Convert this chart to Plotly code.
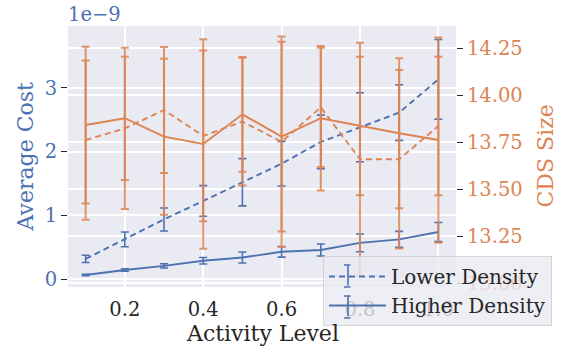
import plotly.graph_objects as go

# ---- data ----
activity = [0.1, 0.2, 0.3, 0.4, 0.5, 0.6, 0.7, 0.8, 0.9, 1.0]

# Average cost (in units of 1e-9)
cost_lower = [0.32, 0.625, 0.937, 1.226, 1.52, 1.81, 2.15, 2.38, 2.61, 3.13]
cost_lower_err = [0.057, 0.115, 0.18, 0.24, 0.37, 0.35, 0.42, 0.54, 0.435, 0.625]
cost_higher = [0.067, 0.145, 0.21, 0.29, 0.34, 0.43, 0.458, 0.57, 0.625, 0.74]
cost_higher_err = [0.01, 0.02, 0.034, 0.052, 0.086, 0.083, 0.094, 0.14, 0.125, 0.15]

# CDS size
size_lower = [13.762, 13.824, 13.922, 13.784, 13.860, 13.753, 13.936, 13.660, 13.660, 13.837]
size_lower_err = [0.424, 0.429, 0.335, 0.454, 0.340, 0.56, 0.317, 0.62, 0.475, 0.369]
size_higher = [13.842, 13.878, 13.780, 13.741, 13.899, 13.780, 13.878, 13.837, 13.798, 13.762]
size_higher_err = [0.417, 0.328, 0.415, 0.557, 0.305, 0.505, 0.385, 0.369, 0.399, 0.546]

x_ticks = [0.2, 0.4, 0.6, 0.8, 1.0]
x_ticktext = ["0.2", "0.4", "0.6", "0.8", "1.0"]
cost_ticks = [0, 1, 2, 3]
size_ticks = [13.00, 13.25, 13.50, 13.75, 14.00, 14.25]
size_ticktext = ["13.00", "13.25", "13.50", "13.75", "14.00", "14.25"]

BLUE = "#4C72B0"
ORANGE = "#DD8452"
ORANGE_EB = "rgba(221,132,82,0.85)"
DARK = "#262626"
FONT = "DejaVu Serif"
TICK = 19.5
LEG = 20
TITLE = 22

# figure geometry (pixels)
W, H = 563, 349
L, R, T, B = 68, 107, 26, 62
pw, ph = W - L - R, H - T - B


def px_x(px):
    return (px - L) / pw


def px_y(py):
    return (H - B - py) / ph


fig = go.Figure()

fig.add_trace(go.Scatter(
    x=activity, y=cost_lower, name="Lower Density", mode="lines",
    line=dict(color=BLUE, width=1.9, dash="6px,4px"),
    error_y=dict(type="data", array=cost_lower_err, color=BLUE, thickness=1.6, width=4),
    yaxis="y"))
fig.add_trace(go.Scatter(
    x=activity, y=cost_higher, name="Higher Density", mode="lines",
    line=dict(color=BLUE, width=1.9),
    error_y=dict(type="data", array=cost_higher_err, color=BLUE, thickness=1.6, width=4),
    yaxis="y"))
fig.add_trace(go.Scatter(
    x=activity, y=size_lower, name="Lower Density (size)", mode="lines", showlegend=False,
    line=dict(color=ORANGE, width=1.9, dash="6px,4px"),
    error_y=dict(type="data", array=size_lower_err, color=ORANGE_EB, thickness=2, width=4),
    yaxis="y2"))
fig.add_trace(go.Scatter(
    x=activity, y=size_higher, name="Higher Density (size)", mode="lines", showlegend=False,
    line=dict(color=ORANGE, width=1.9),
    error_y=dict(type="data", array=size_higher_err, color=ORANGE_EB, thickness=2, width=4),
    yaxis="y2"))

annotations = [
    dict(text="Activity Level", x=0.5, y=px_y(333), xref="paper", yref="paper",
         xanchor="center", yanchor="middle",
         showarrow=False, font=dict(family=FONT, size=TITLE, color=DARK)),
    dict(text="Average Cost", x=px_x(25), y=0.5, xref="paper", yref="paper",
         xanchor="center", yanchor="middle",
         showarrow=False, textangle=-90, font=dict(family=FONT, size=TITLE, color=BLUE)),
    dict(text="CDS Size", x=px_x(545), y=0.5, xref="paper", yref="paper",
         xanchor="center", yanchor="middle",
         showarrow=False, textangle=-90, font=dict(family=FONT, size=TITLE, color=ORANGE)),
    dict(text="1e\u22129", x=px_x(66), y=px_y(14), xref="paper", yref="paper",
         xanchor="left", yanchor="middle",
         showarrow=False, font=dict(family=FONT, size=TICK, color=BLUE)),
]

# error-bar marks on the legend glyphs (vertical bar + two caps per entry)
glyph_x = 348
for row_y in (276, 307):
    top, bot = row_y - 11, row_y + 11
    annotations.append(dict(text="", x=px_x(glyph_x), y=px_y(top), xref="paper", yref="paper",
                            showarrow=True, arrowhead=0, ax=0, ay=bot - top,
                            arrowwidth=1.6, arrowcolor=BLUE, standoff=0, startstandoff=0))
    for cy in (top, bot):
        annotations.append(dict(text="", x=px_x(glyph_x - 4), y=px_y(cy), xref="paper", yref="paper",
                                showarrow=True, arrowhead=0, ax=8, ay=0,
                                arrowwidth=1.6, arrowcolor=BLUE, standoff=0, startstandoff=0))

fig.update_layout(
    width=W, height=H,
    margin=dict(l=L, r=R, t=T, b=B, autoexpand=False),
    paper_bgcolor="white",
    plot_bgcolor="#EAEAF2",
    font=dict(family=FONT, size=TICK, color=DARK),
    xaxis=dict(
        range=[0.055, 1.045], tickvals=x_ticks, ticktext=x_ticktext,
        showgrid=True, gridcolor="white", gridwidth=1.5, zeroline=False,
        ticks="outside", ticklen=5, tickcolor="rgba(0,0,0,0)",
        tickfont=dict(family=FONT, size=TICK, color=DARK), showline=False),
    yaxis=dict(
        range=[-0.121, 3.966], tickvals=cost_ticks, ticktext=[str(t) for t in cost_ticks],
        showgrid=True, gridcolor="white", gridwidth=1.5, zeroline=False,
        ticks="outside", ticklen=6, tickwidth=1.3, tickcolor=DARK,
        tickfont=dict(family=FONT, size=TICK, color=BLUE), showline=False),
    yaxis2=dict(
        range=[12.980, 14.369], tickvals=size_ticks, ticktext=size_ticktext,
        overlaying="y", side="right",
        showgrid=True, gridcolor="white", gridwidth=1.5, zeroline=False,
        ticks="outside", ticklen=6, tickwidth=1.3, tickcolor=DARK,
        tickfont=dict(family=FONT, size=TICK, color=ORANGE), showline=False),
    legend=dict(
        x=px_x(323), y=px_y(256), xanchor="left", yanchor="top",
        bgcolor="rgba(234,234,242,0.8)", bordercolor="rgba(204,204,204,0.8)", borderwidth=1,
        font=dict(family=FONT, size=LEG, color=DARK),
        itemwidth=57, tracegroupgap=0),
    showlegend=True,
    annotations=annotations,
)

fig.write_html("out.html", config={"displayModeBar": False},
               post_script="document.body.style.margin='0';")
